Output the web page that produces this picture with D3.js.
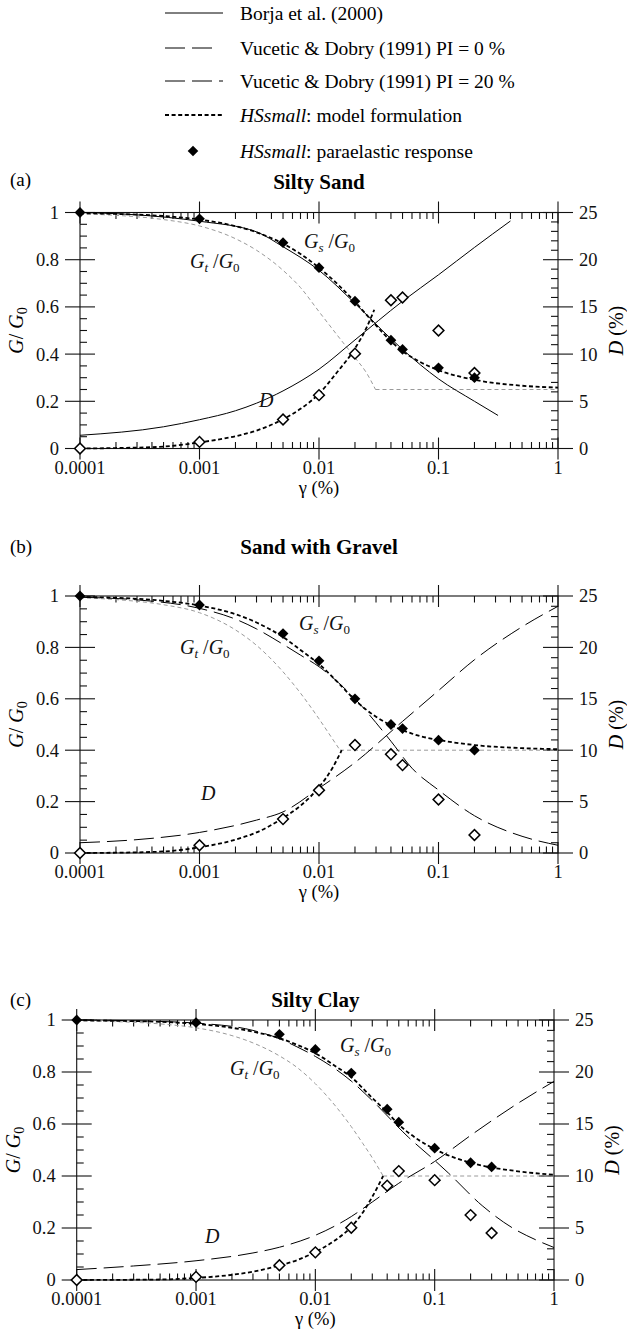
<!DOCTYPE html>
<html>
<head>
<meta charset="utf-8">
<script src="https://cdn.jsdelivr.net/npm/d3@7"></script>
<style>
  html, body { margin: 0; padding: 0; background: #fff; }
  svg { display: block; font-family: "Liberation Serif", "Times New Roman", serif; }
</style>
</head>
<body>
<svg id="chart" width="627" height="1332" font-family="Liberation Serif, serif"></svg>
<script>
// ---------- shared tick labels ----------
const strainTickLabels = ["0.0001", "0.001", "0.01", "0.1", "1"];
const ratioTickLabels = ["0", "0.2", "0.4", "0.6", "0.8", "1"];
const dampingTickLabels = ["0", "5", "10", "15", "20", "25"];

// strain grid (%) shared by the HSsmall secant-modulus curves
const modelStrain = [1e-4, 2e-4, 5e-4, 1e-3, 2e-3, 3e-3, 5e-3, 7e-3, 1e-2, 1.5e-2, 2e-2, 3e-2, 4e-2, 5e-2, 7e-2, 0.1, 0.2, 0.5, 1];

// ---------- (a) Silty Sand ----------
const sandGsModel = [0.997, 0.994, 0.985, 0.970, 0.942, 0.916, 0.868, 0.824, 0.766, 0.686, 0.621, 0.522, 0.454, 0.413, 0.367, 0.332, 0.291, 0.266, 0.258];
const sandGtStrain = [1e-4, 2e-4, 5e-4, 1e-3, 2e-3, 3e-3, 5e-3, 7e-3, 1e-2, 1.5e-2, 2e-2, 2.5e-2, 2.97e-2, 1];
const sandGtModel = [0.994, 0.988, 0.970, 0.943, 0.889, 0.840, 0.755, 0.682, 0.580, 0.465, 0.385, 0.320, 0.250, 0.250];
const sandDStrain = [1e-4, 2e-4, 5e-4, 1e-3, 2e-3, 3e-3, 5e-3, 7e-3, 1e-2, 1.4e-2, 2e-2, 2.5e-2, 2.9e-2];
const sandDModel = [0, 0.05, 0.2, 0.65, 1.3, 1.9, 3.1, 4.2, 5.8, 8.0, 10.6, 12.8, 14.7];
const borjaGStrain = [1e-4, 3e-4, 1e-3, 3e-3, 5e-3, 1e-2, 2e-2, 4e-2, 5e-2, 0.1, 0.2, 0.315];
const borjaG = [1.0, 0.99, 0.963, 0.918, 0.855, 0.755, 0.615, 0.465, 0.42, 0.295, 0.20, 0.14];
const borjaDStrain = [1e-4, 5e-4, 1e-3, 2e-3, 3e-3, 5e-3, 1e-2, 2e-2, 5e-2, 0.1, 0.2, 0.4];
const borjaD = [1.4, 2.3, 3.05, 4.0, 4.8, 6.1, 8.4, 11.5, 15.6, 18.4, 21.3, 24.1];
const sandPointStrain = [1e-4, 1e-3, 5e-3, 1e-2, 2e-2, 4e-2, 5e-2, 0.1, 0.2];
const sandPointG = [1.0, 0.973, 0.872, 0.766, 0.624, 0.459, 0.42, 0.342, 0.30];
const sandPointD = [0, 0.7, 3.07, 5.65, 10.05, 15.7, 16.0, 12.5, 8.0];

// ---------- (b) Sand with Gravel ----------
const gravelGsModel = [0.996, 0.993, 0.981, 0.963, 0.929, 0.897, 0.840, 0.790, 0.735, 0.655, 0.595, 0.530, 0.497, 0.478, 0.455, 0.440, 0.420, 0.408, 0.404];
const gravelGtStrain = [1e-4, 2e-4, 5e-4, 1e-3, 2e-3, 3e-3, 5e-3, 7e-3, 1e-2, 1.25e-2, 1.5e-2, 1];
const gravelGtModel = [0.993, 0.986, 0.966, 0.935, 0.868, 0.808, 0.705, 0.622, 0.522, 0.455, 0.400, 0.400];
const gravelDStrain = [1e-4, 2e-4, 5e-4, 1e-3, 2e-3, 3e-3, 5e-3, 7e-3, 1e-2, 1.3e-2, 1.55e-2];
const gravelDModel = [0, 0.03, 0.15, 0.55, 1.3, 2.0, 3.4, 4.6, 6.4, 8.3, 10.0];
const vd0GStrain = [1e-4, 3e-4, 1e-3, 2e-3, 3e-3, 5e-3, 7e-3, 1e-2, 2e-2, 4e-2, 6e-2, 0.1, 0.2, 0.5, 1];
const vd0G = [0.995, 0.985, 0.952, 0.91, 0.872, 0.812, 0.77, 0.725, 0.60, 0.435, 0.33, 0.245, 0.145, 0.065, 0.03];
const vd0DStrain = [1e-4, 3e-4, 1e-3, 3e-3, 5e-3, 1e-2, 2e-2, 5e-2, 0.1, 0.2, 0.5, 1];
const vd0D = [1.0, 1.3, 2.0, 3.2, 4.0, 6.3, 8.8, 12.8, 15.8, 18.8, 22.0, 24.0];
const gravelPointStrain = [1e-4, 1e-3, 5e-3, 1e-2, 2e-2, 4e-2, 5e-2, 0.1, 0.2];
const gravelPointG = [1.0, 0.965, 0.854, 0.748, 0.60, 0.50, 0.484, 0.439, 0.40];
const gravelPointD = [0, 0.75, 3.3, 6.1, 10.5, 9.6, 8.55, 5.2, 1.75];

// ---------- (c) Silty Clay ----------
const clayGsModel = [0.999, 0.997, 0.993, 0.985, 0.970, 0.955, 0.930, 0.905, 0.872, 0.820, 0.780, 0.700, 0.645, 0.598, 0.545, 0.503, 0.451, 0.418, 0.405];
const clayGtStrain = [1e-4, 2e-4, 5e-4, 1e-3, 2e-3, 3e-3, 5e-3, 7e-3, 1e-2, 1.5e-2, 2e-2, 2.5e-2, 3e-2, 3.7e-2, 1];
const clayGtModel = [0.997, 0.994, 0.985, 0.970, 0.940, 0.912, 0.862, 0.818, 0.755, 0.665, 0.590, 0.525, 0.470, 0.400, 0.400];
const clayDStrain = [1e-4, 5e-4, 1e-3, 2e-3, 3e-3, 5e-3, 7e-3, 1e-2, 1.5e-2, 2e-2, 2.5e-2, 3e-2, 3.7e-2];
const clayDModel = [0, 0.05, 0.2, 0.5, 0.8, 1.4, 1.9, 2.7, 3.9, 5.1, 6.5, 8.0, 10.0];
const vd20GStrain = [1e-4, 3e-4, 1e-3, 3e-3, 5e-3, 7e-3, 1e-2, 2e-2, 3e-2, 6e-2, 0.1, 0.13, 0.25, 0.45, 0.7, 1];
const vd20G = [1.0, 0.997, 0.988, 0.96, 0.928, 0.897, 0.86, 0.765, 0.69, 0.55, 0.46, 0.412, 0.286, 0.2, 0.155, 0.125];
const vd20DStrain = [1e-4, 3e-4, 1e-3, 3e-3, 5e-3, 1e-2, 2e-2, 3e-2, 5e-2, 0.1, 0.2, 0.5, 1];
const vd20D = [1.0, 1.35, 1.85, 2.6, 3.15, 4.3, 6.1, 7.5, 9.3, 11.4, 13.9, 17.0, 19.1];
const clayPointStrain = [1e-4, 1e-3, 5e-3, 1e-2, 2e-2, 4e-2, 5e-2, 0.1, 0.2, 0.3];
const clayPointG = [1.0, 0.99, 0.945, 0.887, 0.796, 0.657, 0.607, 0.507, 0.451, 0.435];
const clayPointD = [0, 0.3, 1.42, 2.66, 5.03, 9.07, 10.47, 9.6, 6.24, 4.52];

// ---------- legend ----------
const legendItems = [
  { ital: "", text: "Borja et al. (2000)", kind: "borja" },
  { ital: "", text: "Vucetic & Dobry (1991) PI = 0 %", kind: "vd0" },
  { ital: "", text: "Vucetic & Dobry (1991) PI = 20 %", kind: "vd20" },
  { ital: "HSsmall", text: ": model formulation", kind: "model" },
  { ital: "HSsmall", text: ": paraelastic response", kind: "point" }
];

// ---------- styles ----------
const STYLE = {
  borja: { stroke: "#000", width: 1, dash: null },
  vd0:   { stroke: "#000", width: 1, dash: "20,7" },
  vd20:  { stroke: "#000", width: 1, dash: "20,7" },
  model: { stroke: "#000", width: 1.8, dash: "4,2.6" },
  tangent: { stroke: "#9a9a9a", width: 1, dash: "4,3" }
};

const zip = (xs, ys) => xs.map((v, i) => [v, ys[i]]);

const svg = d3.select("#chart");

// ---------- legend ----------
const legendRows = [13, 48, 81, 115, 151];
const legend = svg.append("g").attr("font-size", 19.5);
legendItems.forEach((item, i) => {
  const y = legendRows[i];
  if (item.kind === "point") {
    legend.append("path")
      .attr("d", d3.symbol(d3.symbolSquare, 56)())
      .attr("transform", `translate(193,${y}) rotate(45)`)
      .attr("fill", "#000");
  } else {
    const s = STYLE[item.kind];
    const x2 = item.kind === "vd0" ? 212 : 223;
    legend.append("line")
      .attr("x1", 165).attr("x2", x2).attr("y1", y).attr("y2", y)
      .attr("stroke", s.stroke).attr("stroke-width", s.width)
      .attr("stroke-dasharray", s.dash);
  }
  const t = legend.append("text").attr("x", 240).attr("y", y).attr("dy", "0.35em");
  if (item.ital) t.append("tspan").style("font-style", "italic").text(item.ital);
  t.append("tspan").text(item.text);
});

// ---------- panels ----------
const panels = [
  {
    tag: "(a)", title: "Silty Sand",
    left: 80, right: 558, top: 212.5, bottom: 448.5,
    tagY: 186, titleY: 189,
    tangent: zip(sandGtStrain, sandGtModel),
    refG: zip(borjaGStrain, borjaG), refD: zip(borjaDStrain, borjaD), refKind: "borja",
    modelG: zip(modelStrain, sandGsModel), modelD: zip(sandDStrain, sandDModel),
    pointG: zip(sandPointStrain, sandPointG), pointD: zip(sandPointStrain, sandPointD),
    gsLabel: [304, 248], gtLabel: [190, 268], dLabel: [259, 407]
  },
  {
    tag: "(b)", title: "Sand with Gravel",
    left: 80, right: 558, top: 596, bottom: 853,
    tagY: 553, titleY: 554,
    tangent: zip(gravelGtStrain, gravelGtModel),
    refG: zip(vd0GStrain, vd0G), refD: zip(vd0DStrain, vd0D), refKind: "vd0",
    modelG: zip(modelStrain, gravelGsModel), modelD: zip(gravelDStrain, gravelDModel),
    pointG: zip(gravelPointStrain, gravelPointG), pointD: zip(gravelPointStrain, gravelPointD),
    gsLabel: [299, 630], gtLabel: [180, 654], dLabel: [201, 800]
  },
  {
    tag: "(c)", title: "Silty Clay",
    left: 76.7, right: 554, top: 1020, bottom: 1280,
    tagY: 1006, titleY: 1007,
    tangent: zip(clayGtStrain, clayGtModel),
    refG: zip(vd20GStrain, vd20G), refD: zip(vd20DStrain, vd20D), refKind: "vd20",
    modelG: zip(modelStrain, clayGsModel), modelD: zip(clayDStrain, clayDModel),
    pointG: zip(clayPointStrain, clayPointG), pointD: zip(clayPointStrain, clayPointD),
    gsLabel: [340, 1052], gtLabel: [230, 1075], dLabel: [205, 1243]
  }
];

function ratioLabel(sel, sub) {
  sel.append("tspan").style("font-style", "italic").text("G");
  sel.append("tspan").attr("font-size", 13).attr("dy", 4).style("font-style", "italic").text(sub);
  sel.append("tspan").attr("dy", -4).text(" /");
  sel.append("tspan").style("font-style", "italic").text("G");
  sel.append("tspan").attr("font-size", 13).attr("dy", 4).text("0");
}

function drawPanel(p) {
  const g = svg.append("g");
  const x = d3.scaleLog().domain([1e-4, 1]).range([p.left, p.right]);
  const yG = d3.scaleLinear().domain([0, 1]).range([p.bottom, p.top]);
  const yD = d3.scaleLinear().domain([0, 25]).range([p.bottom, p.top]);
  const axisColor = "#111";

  // frame
  g.append("rect")
    .attr("x", p.left).attr("y", p.top)
    .attr("width", p.right - p.left).attr("height", p.bottom - p.top)
    .attr("fill", "none").attr("stroke", axisColor).attr("stroke-width", 1.1);

  const ticks = g.append("g").attr("stroke", axisColor).attr("stroke-width", 1.1);
  const isDecade = v => Math.abs(Math.log10(v) - Math.round(Math.log10(v))) < 1e-9;

  // strain ticks on bottom and top edges
  x.ticks().forEach(v => {
    const px = x(v);
    if (isDecade(v)) {
      ticks.append("line").attr("x1", px).attr("x2", px).attr("y1", p.bottom - 11).attr("y2", p.bottom + 11);
      ticks.append("line").attr("x1", px).attr("x2", px).attr("y1", p.top - 11).attr("y2", p.top + 11);
    } else {
      ticks.append("line").attr("x1", px).attr("x2", px).attr("y1", p.bottom - 6.5).attr("y2", p.bottom);
      ticks.append("line").attr("x1", px).attr("x2", px).attr("y1", p.top).attr("y2", p.top + 6.5);
    }
  });

  // G/G0 ticks on the left edge
  d3.range(0, 1.0001, 0.05).forEach((v, i) => {
    const py = yG(v);
    if (i % 4 === 0) ticks.append("line").attr("x1", p.left - 15).attr("x2", p.left + 15).attr("y1", py).attr("y2", py);
    else ticks.append("line").attr("x1", p.left).attr("x2", p.left + 7).attr("y1", py).attr("y2", py);
  });
  // D ticks on the right edge
  d3.range(0, 25.001, 1).forEach((v, i) => {
    const py = yD(v);
    if (i % 5 === 0) ticks.append("line").attr("x1", p.right - 15).attr("x2", p.right + 15).attr("y1", py).attr("y2", py);
    else ticks.append("line").attr("x1", p.right - 7).attr("x2", p.right).attr("y1", py).attr("y2", py);
  });

  // tick labels
  const lab = g.append("g").attr("font-size", 18.5).attr("fill", "#111");
  x.ticks().filter(isDecade).forEach((v, i) => {
    lab.append("text").attr("x", x(v)).attr("y", p.bottom + 25).attr("text-anchor", "middle").text(strainTickLabels[i]);
  });
  yG.ticks(5).forEach((v, i) => {
    lab.append("text").attr("x", p.left - 21).attr("y", yG(v)).attr("dy", "0.35em").attr("text-anchor", "end").text(ratioTickLabels[i]);
  });
  yD.ticks(5).forEach((v, i) => {
    lab.append("text").attr("x", p.right + 21).attr("y", yD(v)).attr("dy", "0.35em").attr("text-anchor", "start").text(dampingTickLabels[i]);
  });

  // axis titles
  const midY = (p.top + p.bottom) / 2;
  const yl = g.append("text").attr("font-size", 20).attr("text-anchor", "middle")
    .attr("transform", `translate(${p.left - 57},${midY}) rotate(-90)`);
  yl.append("tspan").style("font-style", "italic").text("G");
  yl.append("tspan").text("/ ");
  yl.append("tspan").style("font-style", "italic").text("G");
  yl.append("tspan").attr("font-size", 14).attr("dy", 4).text("0");

  const yr = g.append("text").attr("font-size", 20).attr("text-anchor", "middle")
    .attr("transform", `translate(${p.right + 65},${midY}) rotate(-90)`);
  yr.append("tspan").style("font-style", "italic").text("D");
  yr.append("tspan").text(" (%)");

  g.append("text").attr("font-size", 18.5).attr("text-anchor", "middle")
    .attr("x", (p.left + p.right) / 2).attr("y", p.bottom + 45).text("\u03b3 (%)");

  // panel tag and title
  g.append("text").attr("font-size", 19).attr("x", 10).attr("y", p.tagY).text(p.tag);
  g.append("text").attr("font-size", 21).attr("font-weight", "bold").attr("text-anchor", "middle")
    .attr("x", (p.left + p.right) / 2).attr("y", p.titleY).text(p.title);

  // curves
  const lineG = d3.line().x(d => x(d[0])).y(d => yG(d[1])).curve(d3.curveMonotoneX);
  const lineD = d3.line().x(d => x(d[0])).y(d => yD(d[1])).curve(d3.curveMonotoneX);
  const lineFlat = d3.line().x(d => x(d[0])).y(d => yG(d[1]));
  const stroke = (sel, s) => sel.attr("fill", "none").attr("stroke", s.stroke)
    .attr("stroke-width", s.width).attr("stroke-dasharray", s.dash);

  // tangent modulus: smooth decay, then constant after the cut-off
  const tg = p.tangent;
  stroke(g.append("path").attr("d", lineG(tg.slice(0, -1))), STYLE.tangent);
  stroke(g.append("path").attr("d", lineFlat(tg.slice(-2))), STYLE.tangent);

  // reference curves
  stroke(g.append("path").attr("d", lineG(p.refG)), STYLE[p.refKind]);
  stroke(g.append("path").attr("d", lineD(p.refD)), STYLE[p.refKind]);

  // model curves
  stroke(g.append("path").attr("d", lineG(p.modelG)), STYLE.model);
  stroke(g.append("path").attr("d", lineD(p.modelD)), STYLE.model);

  // paraelastic response points
  const diamond = d3.symbol(d3.symbolSquare, 58)();
  g.append("g").selectAll("path").data(p.pointD).join("path")
    .attr("d", diamond)
    .attr("transform", d => `translate(${x(d[0])},${yD(d[1])}) rotate(45)`)
    .attr("fill", "#fff").attr("stroke", "#000").attr("stroke-width", 1.5);
  g.append("g").selectAll("path").data(p.pointG).join("path")
    .attr("d", diamond)
    .attr("transform", d => `translate(${x(d[0])},${yG(d[1])}) rotate(45)`)
    .attr("fill", "#000");

  // curve annotations
  const ann = g.append("g").attr("font-size", 20).attr("fill", "#111");
  ratioLabel(ann.append("text").attr("x", p.gsLabel[0]).attr("y", p.gsLabel[1]), "s");
  ratioLabel(ann.append("text").attr("x", p.gtLabel[0]).attr("y", p.gtLabel[1]), "t");
  ann.append("text").attr("x", p.dLabel[0]).attr("y", p.dLabel[1]).style("font-style", "italic").text("D");
}

panels.forEach(drawPanel);
</script>
</body>
</html>
